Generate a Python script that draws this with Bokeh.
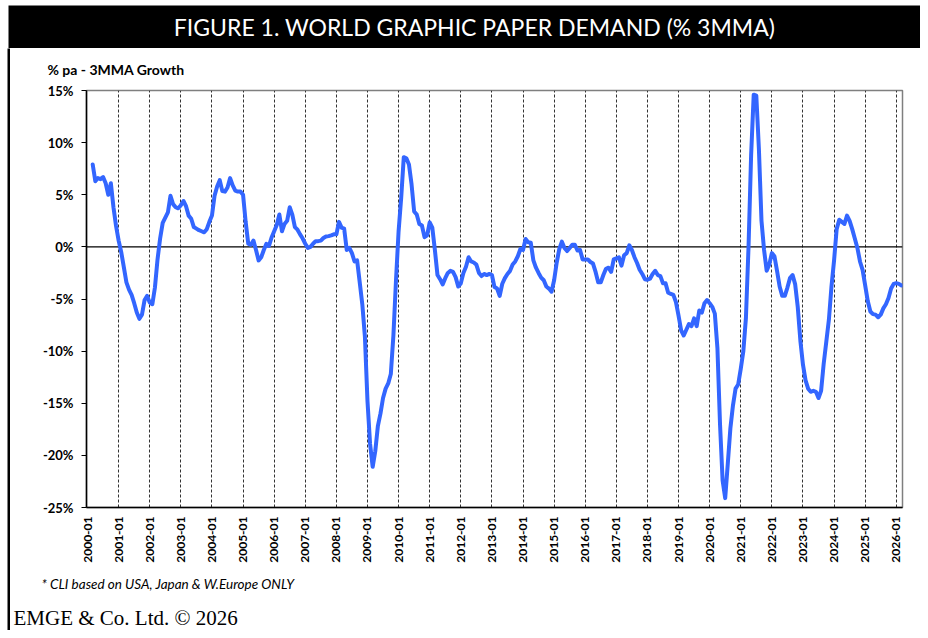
import math
from bokeh.plotting import figure
from bokeh.models import Label, Span, FixedTicker, Range1d
from bokeh.layouts import column, row
from bokeh.embed import file_html
from bokeh.resources import INLINE

# ---- data: world graphic paper demand, % pa 3MMA growth (monthly) ----
START_YEAR = 2000
START_MONTH = 3  # first observation: 2000-03

vals_2000 = [7.9, 6.3, 6.6, 6.5, 6.7, 6.1, 5.0, 6.1, 3.8, 2.0]
vals_2001 = [0.6, -0.5, -1.95, -3.4, -4.1, -4.6, -5.4, -6.3, -6.9, -6.5, -5.1, -4.7]
vals_2002 = [-5.35, -5.5, -3.9, -1.2, 0.8, 2.3, 2.8, 3.3, 4.9, 4.1, 3.8, 3.7]
vals_2003 = [4.0, 4.4, 3.9, 3.0, 2.7, 1.9, 1.75, 1.6, 1.5, 1.4, 1.7, 2.4]
vals_2004 = [3.0, 4.9, 5.8, 6.4, 5.35, 5.3, 5.7, 6.6, 5.9, 5.4, 5.3, 5.3]
vals_2005 = [5.0, 2.4, 0.3, 0.2, 0.6, -0.3, -1.3, -1.0, -0.3, 0.3, 0.1, 0.9]
vals_2006 = [1.5, 2.1, 3.1, 1.5, 2.2, 2.5, 3.8, 3.1, 1.9, 1.65, 1.2, 0.8]
vals_2007 = [0.3, -0.1, 0.0, 0.3, 0.55, 0.55, 0.6, 0.85, 1.0, 1.03, 1.1, 1.2]
vals_2008 = [1.2, 2.4, 1.85, 1.75, -0.3, -0.1, -0.6, -1.4, -1.3, -3.4, -5.5, -8.6]
vals_2009 = [-14.8, -18.9, -21.1, -19.6, -17.2, -16.0, -14.5, -13.6, -13.1, -12.2, -8.5, -3.2]
vals_2010 = [1.5, 4.7, 8.6, 8.5, 7.9, 6.0, 3.4, 3.1, 2.2, 2.05, 0.93, 1.1]
vals_2011 = [2.35, 1.85, -0.3, -2.7, -3.1, -3.6, -3.0, -2.5, -2.3, -2.4, -2.9, -3.8]
vals_2012 = [-3.5, -2.5, -1.9, -1.0, -1.4, -1.5, -1.7, -2.5, -2.8, -2.6, -2.7, -2.6]
vals_2013 = [-2.7, -3.86, -4.0, -4.7, -3.54, -3.0, -2.6, -2.3, -1.7, -1.4, -0.9, -0.2]
vals_2014 = [-0.3, 0.75, 0.45, 0.4, -1.3, -2.0, -2.5, -2.95, -3.2, -3.8, -4.0, -4.3]
vals_2015 = [-3.2, -1.5, -0.2, 0.5, -0.1, -0.4, -0.1, 0.2, 0.2, -0.35, -0.3, -1.2]
vals_2016 = [-1.2, -1.2, -1.45, -1.6, -2.4, -3.4, -3.4, -2.7, -2.1, -2.0, -2.4, -1.2]
vals_2017 = [-1.1, -1.0, -1.8, -0.8, -0.6, 0.15, -0.3, -0.99, -1.55, -2.2, -2.6, -3.1]
vals_2018 = [-3.15, -3.05, -2.6, -2.3, -2.7, -2.8, -3.5, -3.5, -4.4, -4.5, -4.6, -5.3]
vals_2019 = [-6.6, -8.0, -8.5, -7.95, -7.4, -7.6, -6.85, -7.6, -6.1, -6.3, -5.4, -5.1]
vals_2020 = [-5.4, -5.75, -6.4, -9.7, -17.0, -22.4, -24.1, -20.8, -17.4, -15.2, -13.6, -13.2]
vals_2021 = [-11.7, -10.0, -6.8, 0.0, 8.8, 14.6, 14.5, 9.4, 2.5, -0.3, -2.3, -1.7]
vals_2022 = [-0.6, -0.9, -2.3, -3.8, -4.7, -4.7, -3.9, -3.0, -2.7, -3.6, -5.8, -9.0]
vals_2023 = [-11.3, -12.8, -13.6, -13.9, -13.8, -13.9, -14.5, -13.8, -11.2, -9.1, -7.0, -3.8]
vals_2024 = [-1.3, 1.7, 2.6, 2.4, 2.2, 3.0, 2.5, 1.7, 0.8, -0.1, -1.4, -2.2]
vals_2025 = [-3.7, -5.2, -6.2, -6.45, -6.5, -6.75, -6.5, -5.9, -5.5, -4.9, -4.0, -3.55]
vals_2026 = [-3.48, -3.55, -3.7]

x_tick_labels = ["2000-01", "2001-01", "2002-01", "2003-01", "2004-01", "2005-01",
                 "2006-01", "2007-01", "2008-01", "2009-01", "2010-01", "2011-01",
                 "2012-01", "2013-01", "2014-01", "2015-01", "2016-01", "2017-01",
                 "2018-01", "2019-01", "2020-01", "2021-01", "2022-01", "2023-01",
                 "2024-01", "2025-01", "2026-01"]
y_tick_values = [-25, -20, -15, -10, -5, 0, 5, 10, 15]
y_tick_labels = ["-25%", "-20%", "-15%", "-10%", "-5%", "0%", "5%", "10%", "15%"]

title_text = "FIGURE 1. WORLD GRAPHIC PAPER DEMAND (% 3MMA)"
axis_title = "% pa - 3MMA Growth"
footnote = "* CLI based on USA, Japan & W.Europe ONLY"
credit = "EMGE & Co. Ltd. \u00a9 2026"

# ---- assemble ----
values = (vals_2000 + vals_2001 + vals_2002 + vals_2003 + vals_2004 + vals_2005 +
          vals_2006 + vals_2007 + vals_2008 + vals_2009 + vals_2010 + vals_2011 +
          vals_2012 + vals_2013 + vals_2014 + vals_2015 + vals_2016 + vals_2017 +
          vals_2018 + vals_2019 + vals_2020 + vals_2021 + vals_2022 + vals_2023 +
          vals_2024 + vals_2025 + vals_2026)
first = START_MONTH - 1
months = list(range(first, first + len(values)))  # month index, 0 = 2000-01
x_tick_pos = [12 * i for i in range(len(x_tick_labels))]


def blank(width, height, bg="white", left=0, right=0, top=0, bottom=0):
    f = figure(width=width, height=height, output_backend="svg", toolbar_location=None,
               x_axis_location=None, y_axis_location=None,
               x_range=Range1d(0, 1), y_range=Range1d(0, 1),
               min_border_left=left, min_border_right=right,
               min_border_top=top, min_border_bottom=bottom)
    f.grid.visible = False
    f.outline_line_color = None
    f.background_fill_color = bg
    f.border_fill_color = "white"
    return f


W, H = 920, 630
RULE_W = 10
BODY_W = W - RULE_W

# ---- title bar ----
title_fig = blank(W, 48, bg="black", left=8, top=5)
title_fig.add_layout(Label(x=466, y=21.5, x_units="screen", y_units="screen",
                           text=title_text, text_align="center", text_baseline="middle",
                           text_color="white", text_font="Lato", text_font_size="23px"))

# ---- left rule ----
rule_fig = blank(RULE_W, H - 48, bg="black", left=7)

# ---- header with axis caption ----
HEAD_H = 32
head_fig = blank(BODY_W, HEAD_H)
head_fig.add_layout(Label(x=37, y=HEAD_H - 21, x_units="screen", y_units="screen",
                          text=axis_title, text_align="left", text_baseline="middle",
                          text_color="black", text_font="Lato", text_font_style="bold",
                          text_font_size="14px"))

# ---- main chart ----
FL, FW, FT, FH, FBOT = 76, 816, 10, 417, 66
MAIN_H = FT + FH + FBOT
p = figure(width=BODY_W, height=MAIN_H, output_backend="svg", toolbar_location=None,
           x_range=Range1d(-0.4, 314.4), y_range=Range1d(-25, 15),
           min_border_left=FL, min_border_right=BODY_W - FL - FW,
           min_border_top=FT, min_border_bottom=FBOT)
p.background_fill_color = "white"
p.border_fill_color = "white"
p.outline_line_color = "#7f7f7f"
p.outline_line_width = 1.5

p.xgrid.ticker = FixedTicker(ticks=x_tick_pos[1:])
p.xgrid.grid_line_color = "#333333"
p.xgrid.grid_line_dash = "3 2"
p.xgrid.grid_line_width = 1
p.ygrid.visible = False

p.add_layout(Span(location=0, dimension="width", line_color="black",
                  line_width=1.2, level="underlay"))

p.line(months, values, line_color="#3366FF", line_width=4,
       line_join="round", line_cap="round")

ax = p.xaxis[0]
ax.ticker = FixedTicker(ticks=x_tick_pos)
ax.major_label_overrides = {pos: lab for pos, lab in zip(x_tick_pos, x_tick_labels)}
ax.major_label_orientation = math.pi / 2
ax.major_label_text_font = "Lato"
ax.major_label_text_font_style = "bold"
ax.major_label_text_font_size = "12px"
ax.major_label_text_color = "black"
ax.major_tick_in = 0
ax.major_tick_out = 0
ax.minor_tick_in = 0
ax.minor_tick_out = 0
ax.major_label_standoff = 9
ax.axis_line_color = "black"
ax.axis_line_width = 1.5

ay = p.yaxis[0]
ay.ticker = FixedTicker(ticks=y_tick_values)
ay.major_label_overrides = {v: lab for v, lab in zip(y_tick_values, y_tick_labels)}
ay.major_label_text_font = "Lato"
ay.major_label_text_font_style = "bold"
ay.major_label_text_font_size = "13px"
ay.major_label_text_color = "black"
ay.major_tick_in = 0
ay.major_tick_out = 5
ay.minor_tick_in = 0
ay.minor_tick_out = 0
ay.major_label_standoff = 8
ay.axis_line_color = "black"
ay.axis_line_width = 1.5

# ---- footer ----
FOOT_H = H - 48 - HEAD_H - MAIN_H
foot_fig = blank(BODY_W, FOOT_H)
foot_fig.add_layout(Label(x=31, y=FOOT_H - 10, x_units="screen", y_units="screen",
                          text=footnote, text_align="left", text_baseline="middle",
                          text_color="black", text_font="Lato", text_font_style="italic",
                          text_font_size="13.5px"))
foot_fig.add_layout(Label(x=3, y=13, x_units="screen", y_units="screen",
                          text=credit, text_align="left", text_baseline="middle",
                          text_color="black", text_font="Liberation Serif",
                          text_font_size="21px"))

# nesting the chart in its own row keeps the caption/footer frames from
# being aligned to the chart frame
layout = column(title_fig, row(rule_fig, column(head_fig, row(p), foot_fig)))

open("out.html", "w").write(file_html(layout, INLINE))
